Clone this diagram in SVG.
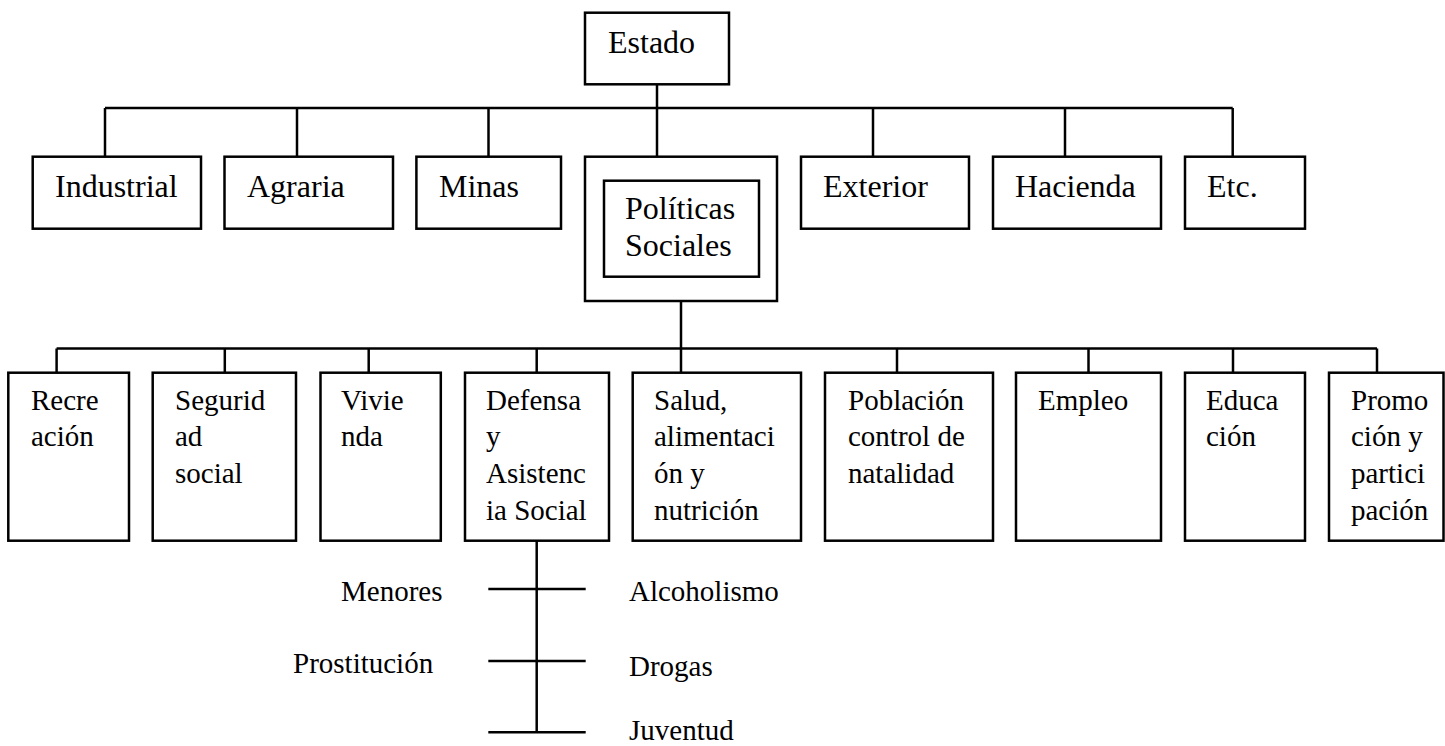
<svg xmlns="http://www.w3.org/2000/svg" width="1445" height="746" viewBox="0 0 1445 746">
<style>
rect{fill:#fff;stroke:#000;stroke-width:2.5}
.c line,.c path{stroke:#000;stroke-width:2.5;fill:none}
text{font-family:"Liberation Serif","Times New Roman",serif;fill:#000}
.b{font-size:32px}
.s{font-size:29px}
</style>
<rect x="0" y="0" width="1445" height="746" style="stroke:none"/>
<g class="c" id="connectors">
<line x1="657" y1="84.3" x2="657" y2="108"/>
<line x1="105" y1="108" x2="1232.7" y2="108"/>
<line x1="105" y1="108" x2="105" y2="156.7"/>
<line x1="297" y1="108" x2="297" y2="156.7"/>
<line x1="488.5" y1="108" x2="488.5" y2="156.7"/>
<line x1="657" y1="108" x2="657" y2="156.7"/>
<line x1="873" y1="108" x2="873" y2="156.7"/>
<line x1="1065" y1="108" x2="1065" y2="156.7"/>
<line x1="1232.7" y1="108" x2="1232.7" y2="156.7"/>
<line x1="681" y1="301" x2="681" y2="348.5"/>
<line x1="56.6" y1="348.5" x2="1377" y2="348.5"/>
<line x1="56.6" y1="348.5" x2="56.6" y2="372.7"/>
<line x1="224.8" y1="348.5" x2="224.8" y2="372.7"/>
<line x1="368.7" y1="348.5" x2="368.7" y2="372.7"/>
<line x1="536.7" y1="348.5" x2="536.7" y2="372.7"/>
<line x1="681" y1="348.5" x2="681" y2="372.7"/>
<line x1="897" y1="348.5" x2="897" y2="372.7"/>
<line x1="1088.5" y1="348.5" x2="1088.5" y2="372.7"/>
<line x1="1233" y1="348.5" x2="1233" y2="372.7"/>
<line x1="1377" y1="348.5" x2="1377" y2="372.7"/>
<line x1="536.7" y1="540.7" x2="536.7" y2="732.3"/>
<line x1="488.3" y1="589" x2="585.7" y2="589"/>
<line x1="488.3" y1="661" x2="585.7" y2="661"/>
<line x1="488.3" y1="732.3" x2="585.7" y2="732.3"/>
</g>
<g id="estado"><rect x="585" y="12.7" width="144" height="71.6"/><text class="b" x="608" y="52.7">Estado</text></g>
<g id="industrial"><rect x="32.7" y="156.7" width="168.3" height="72"/><text class="b" x="55" y="197.3">Industrial</text></g>
<g id="agraria"><rect x="224.5" y="156.7" width="168.5" height="72"/><text class="b" x="247" y="197.3">Agraria</text></g>
<g id="minas"><rect x="416.4" y="156.7" width="144.6" height="72"/><text class="b" x="439" y="197.3">Minas</text></g>
<g id="politicas"><rect x="585" y="156.7" width="192" height="144.3"/><rect x="604" y="180.7" width="155" height="96"/><text class="b" x="625" y="219">Políticas</text><text class="b" x="625" y="256">Sociales</text></g>
<g id="exterior"><rect x="801" y="156.7" width="168" height="72"/><text class="b" x="823" y="197.3">Exterior</text></g>
<g id="hacienda"><rect x="993" y="156.7" width="168" height="72"/><text class="b" x="1015" y="197.3">Hacienda</text></g>
<g id="etc"><rect x="1185" y="156.7" width="120" height="72"/><text class="b" x="1207" y="197.3">Etc.</text></g>
<g id="recreacion"><rect x="8.3" y="372.7" width="120.7" height="168"/><text class="s" x="31" y="409.5">Recre</text><text class="s" x="31" y="446.2">ación</text></g>
<g id="seguridad"><rect x="152.7" y="372.7" width="143.3" height="168"/><text class="s" x="175" y="409.5">Segurid</text><text class="s" x="175" y="446.2">ad</text><text class="s" x="175" y="482.9">social</text></g>
<g id="vivienda"><rect x="320.5" y="372.7" width="120.3" height="168"/><text class="s" x="341" y="409.5">Vivie</text><text class="s" x="341" y="446.2">nda</text></g>
<g id="defensa"><rect x="465" y="372.7" width="144" height="168"/><text class="s" x="486" y="409.5">Defensa</text><text class="s" x="486" y="446.2">y</text><text class="s" x="486" y="482.9">Asistenc</text><text class="s" x="486" y="519.6">ia Social</text></g>
<g id="salud"><rect x="632.7" y="372.7" width="168.3" height="168"/><text class="s" x="654" y="409.5">Salud,</text><text class="s" x="654" y="446.2">alimentaci</text><text class="s" x="654" y="482.9">ón y</text><text class="s" x="654" y="519.6">nutrición</text></g>
<g id="poblacion"><rect x="825" y="372.7" width="168" height="168"/><text class="s" x="848" y="409.5">Población</text><text class="s" x="848" y="446.2">control de</text><text class="s" x="848" y="482.9">natalidad</text></g>
<g id="empleo"><rect x="1016" y="372.7" width="145" height="168"/><text class="s" x="1038" y="409.5">Empleo</text></g>
<g id="educacion"><rect x="1185" y="372.7" width="120" height="168"/><text class="s" x="1206" y="409.5">Educa</text><text class="s" x="1206" y="446.2">ción</text></g>
<g id="promocion"><rect x="1329" y="372.7" width="114.5" height="168"/><text class="s" x="1351" y="409.5">Promo</text><text class="s" x="1351" y="446.2">ción y</text><text class="s" x="1351" y="482.9">partici</text><text class="s" x="1351" y="519.6">pación</text></g>
<g id="menores"><text class="s" x="341" y="601">Menores</text></g>
<g id="prostitucion"><text class="s" x="293" y="673">Prostitución</text></g>
<g id="alcoholismo"><text class="s" x="629" y="601">Alcoholismo</text></g>
<g id="drogas"><text class="s" x="629" y="676">Drogas</text></g>
<g id="juventud"><text class="s" x="629" y="740">Juventud</text></g>
</svg>
